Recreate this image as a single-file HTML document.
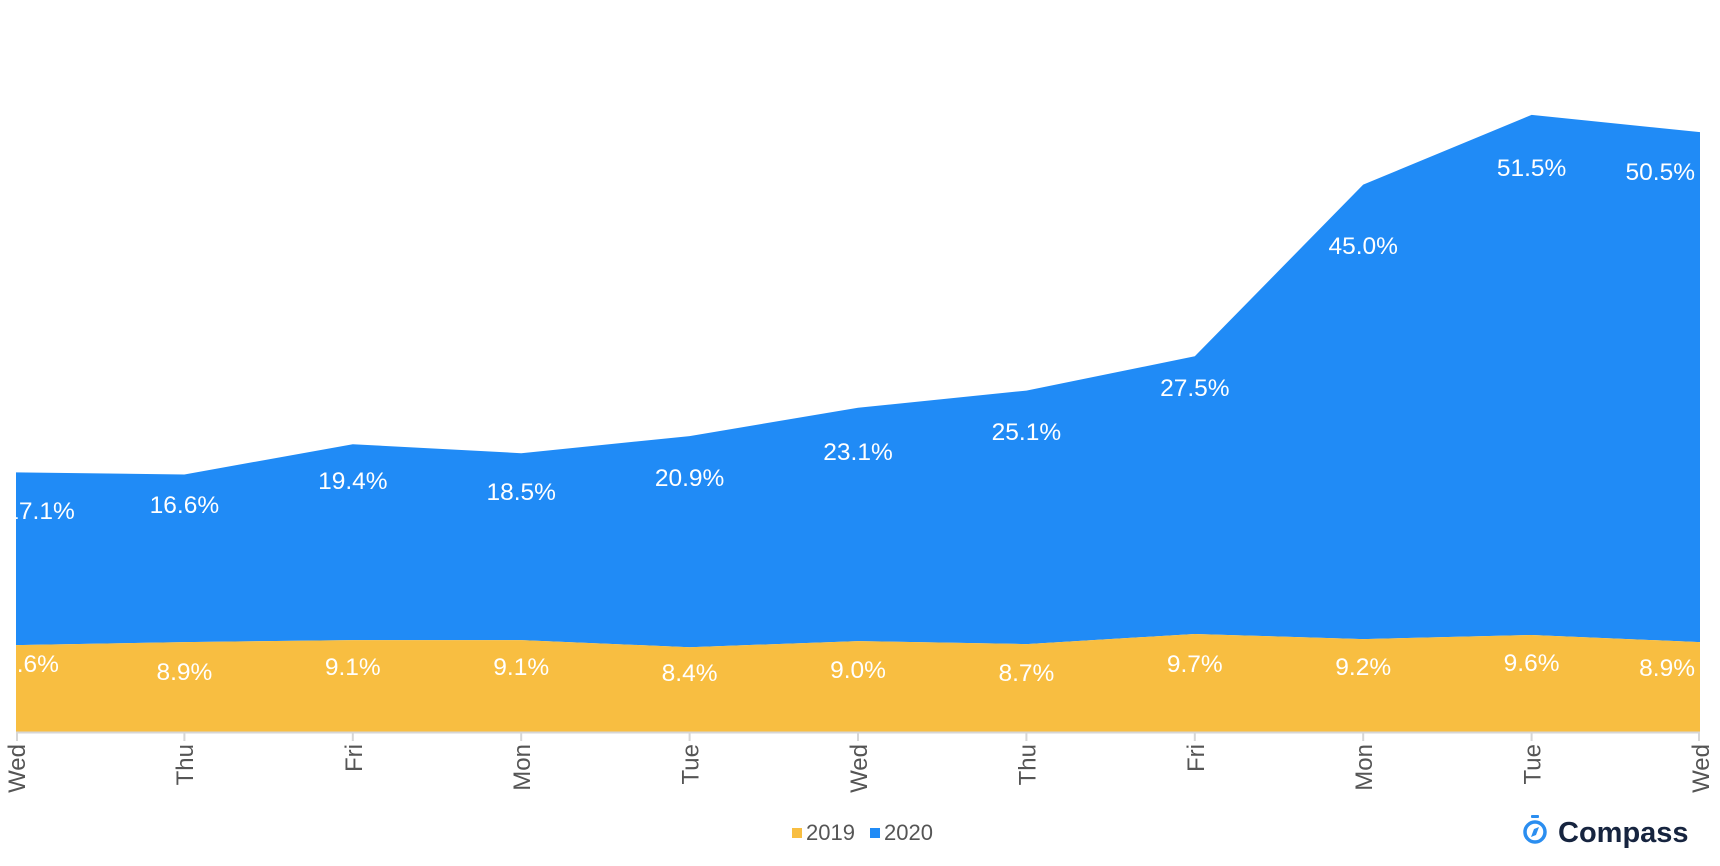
<!DOCTYPE html>
<html><head><meta charset="utf-8"><style>
html,body{margin:0;padding:0;background:#fff;width:1720px;height:866px;overflow:hidden}
text{font-family:"Liberation Sans",Arial,sans-serif}
</style></head><body>
<svg width="1720" height="866" viewBox="0 0 1720 866" xmlns="http://www.w3.org/2000/svg">
<defs><clipPath id="pc"><rect x="16" y="0" width="1686" height="740"/></clipPath></defs>
<polygon fill="#208bf6" points="16,472.4 184.4,474.5 352.8,444.2 521.2,453.2 689.6,436.1 858,407.8 1026.4,390.6 1194.8,356.3 1363.2,184.6 1531.6,114.9 1700,132.1 1700,642.1 1531.6,635 1363.2,639.1 1194.8,634 1026.4,644.1 858,641.1 689.6,647.2 521.2,640.1 352.8,640.1 184.4,642.1 16,645.1"/>
<polygon fill="#f8be41" points="16,645.1 184.4,642.1 352.8,640.1 521.2,640.1 689.6,647.2 858,641.1 1026.4,644.1 1194.8,634 1363.2,639.1 1531.6,635 1700,642.1 1700,732 16,732"/>
<line x1="16" y1="732.5" x2="1700" y2="732.5" stroke="#d6d6d6" stroke-width="2"/>
<g stroke="#d6d6d6" stroke-width="2">
<line x1="17" y1="732" x2="17" y2="741"/><line x1="184.4" y1="732" x2="184.4" y2="741"/><line x1="352.8" y1="732" x2="352.8" y2="741"/><line x1="521.2" y1="732" x2="521.2" y2="741"/><line x1="689.6" y1="732" x2="689.6" y2="741"/><line x1="858" y1="732" x2="858" y2="741"/><line x1="1026.4" y1="732" x2="1026.4" y2="741"/><line x1="1194.8" y1="732" x2="1194.8" y2="741"/><line x1="1363.2" y1="732" x2="1363.2" y2="741"/><line x1="1531.6" y1="732" x2="1531.6" y2="741"/><line x1="1699" y1="732" x2="1699" y2="741"/>
</g>
<g clip-path="url(#pc)" fill="#fff" font-size="24.5" text-anchor="middle">
<text x="40" y="519">17.1%</text><text x="184.4" y="513">16.6%</text><text x="352.8" y="489">19.4%</text><text x="521.2" y="500">18.5%</text><text x="689.6" y="486">20.9%</text><text x="858" y="460">23.1%</text><text x="1026.4" y="440">25.1%</text><text x="1194.8" y="396">27.5%</text><text x="1363.2" y="254">45.0%</text><text x="1531.6" y="176">51.5%</text><text text-anchor="end" x="1695" y="180">50.5%</text>
<text x="31" y="672">8.6%</text><text x="184.4" y="680">8.9%</text><text x="352.8" y="675">9.1%</text><text x="521.2" y="675">9.1%</text><text x="689.6" y="681">8.4%</text><text x="858" y="678">9.0%</text><text x="1026.4" y="681">8.7%</text><text x="1194.8" y="672">9.7%</text><text x="1363.2" y="675">9.2%</text><text x="1531.6" y="671">9.6%</text><text text-anchor="end" x="1695" y="676">8.9%</text>
</g>
<g fill="#555" font-size="24" text-anchor="end">
<text transform="translate(25,744) rotate(-90)">Wed</text>
<text transform="translate(193,744) rotate(-90)">Thu</text>
<text transform="translate(361.8,744) rotate(-90)">Fri</text>
<text transform="translate(530.2,744) rotate(-90)">Mon</text>
<text transform="translate(698.6,744) rotate(-90)">Tue</text>
<text transform="translate(867,744) rotate(-90)">Wed</text>
<text transform="translate(1035.4,744) rotate(-90)">Thu</text>
<text transform="translate(1203.8,744) rotate(-90)">Fri</text>
<text transform="translate(1372.2,744) rotate(-90)">Mon</text>
<text transform="translate(1540.6,744) rotate(-90)">Tue</text>
<text transform="translate(1709,744) rotate(-90)">Wed</text>
</g>
<rect x="792" y="828" width="10" height="10" fill="#f8be41"/>
<text x="806" y="840" font-size="22" fill="#555">2019</text>
<rect x="870" y="828" width="10" height="10" fill="#208bf6"/>
<text x="884" y="840" font-size="22" fill="#555">2020</text>
<g>
<rect x="1531" y="815" width="8" height="3" rx="1" fill="#2b8ef0"/>
<circle cx="1535" cy="832" r="10" fill="none" stroke="#2b8ef0" stroke-width="3.5"/>
<polygon points="1539,827 1536,835 1531,837 1534,829" fill="#2b8ef0"/>
<text x="1558" y="842" font-size="29" font-weight="bold" fill="#16243f">Compass</text>
</g>
</svg>
</body></html>
